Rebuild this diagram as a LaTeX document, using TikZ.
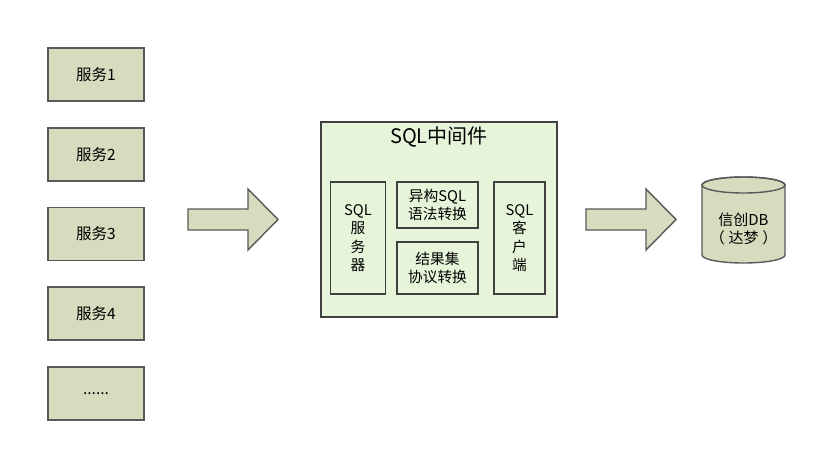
\documentclass[tikz,border=0pt]{standalone}
\usepackage{fontspec}
\setmainfont{Noto Sans CJK SC}
\usetikzlibrary{positioning}
\definecolor{serviceFill}{HTML}{D5DDBE}
\definecolor{middleFill}{HTML}{E6F4DA}
\definecolor{edgeGray}{HTML}{595959}
\definecolor{innerEdge}{HTML}{404040}
\newcommand{\moreServices}{......}
\begin{document}
\begin{tikzpicture}[
  x=1pt,
  y=-1pt,
  service box/.style={
    draw=edgeGray,
    line width=1.6pt,
    fill=serviceFill,
    minimum width=96pt,
    minimum height=53pt,
    inner sep=0pt,
    font=\fontsize{15.5}{18}\selectfont
  },
  middle box/.style={
    draw=innerEdge,
    line width=1.2pt,
    fill=middleFill,
    inner sep=0pt,
    align=center,
    font=\fontsize{14.7}{18.5}\selectfont
  },
  block arrow/.style={draw=edgeGray, line width=1.4pt, fill=serviceFill, line join=miter}
]
  \useasboundingbox (0,0) rectangle (819,452);
  % services on the left
  \foreach [count=\row from 0] \serviceLabel in {服务1,服务2,服务3,服务4,\moreServices} {
    \pgfmathsetmacro{\y}{74.5 + \row * 79.7}
    \node[service box] (service\row) at (96,\y) {\serviceLabel};
  }
  % block arrows
  \foreach \x in {188,586} {
    \draw[block arrow] (\x,209) -- ++(60,0) -- ++(0,-20) -- ++(30,30.5)
      -- ++(-30,30.5) -- ++(0,-20) -- ++(-60,0) -- cycle;
  }
  % middleware
  \node[middle box, minimum width=236pt, minimum height=195pt] (middleware) at (439,219.5) {};
  \node[below=5pt of middleware.north, font=\fontsize{20}{24}\selectfont, inner sep=0pt] (title) {SQL中间件};
  \node[middle box, minimum width=55pt, minimum height=112pt] (server) at (358,238) {SQL\\服\\务\\器};
  \node[middle box, minimum width=81pt, minimum height=46pt] (syntax) at (437.5,205) {异构SQL\\语法转换};
  \node[middle box, minimum width=81pt, minimum height=52pt] (result) at (437.5,268) {结果集\\协议转换};
  \node[middle box, minimum width=51pt, minimum height=112pt] (client) at (519.5,238) {SQL\\客\\户\\端};
  % database
  \draw[draw=edgeGray, line width=1.4pt, fill=serviceFill]
    (702,185) -- (702,255) arc (180:0:41.5 and 8) -- (785,185) arc (0:-180:41.5 and 8) -- cycle;
  \draw[draw=edgeGray, line width=1.4pt] (743.5,185) ellipse (41.5 and 8);
  \node[align=center, font=\fontsize{15}{18}\selectfont, inner sep=0pt] (db) at (743.5,229) {信创DB\\（\hspace{0.25em}达梦\hspace{0.25em}）};
\end{tikzpicture}
\end{document}
